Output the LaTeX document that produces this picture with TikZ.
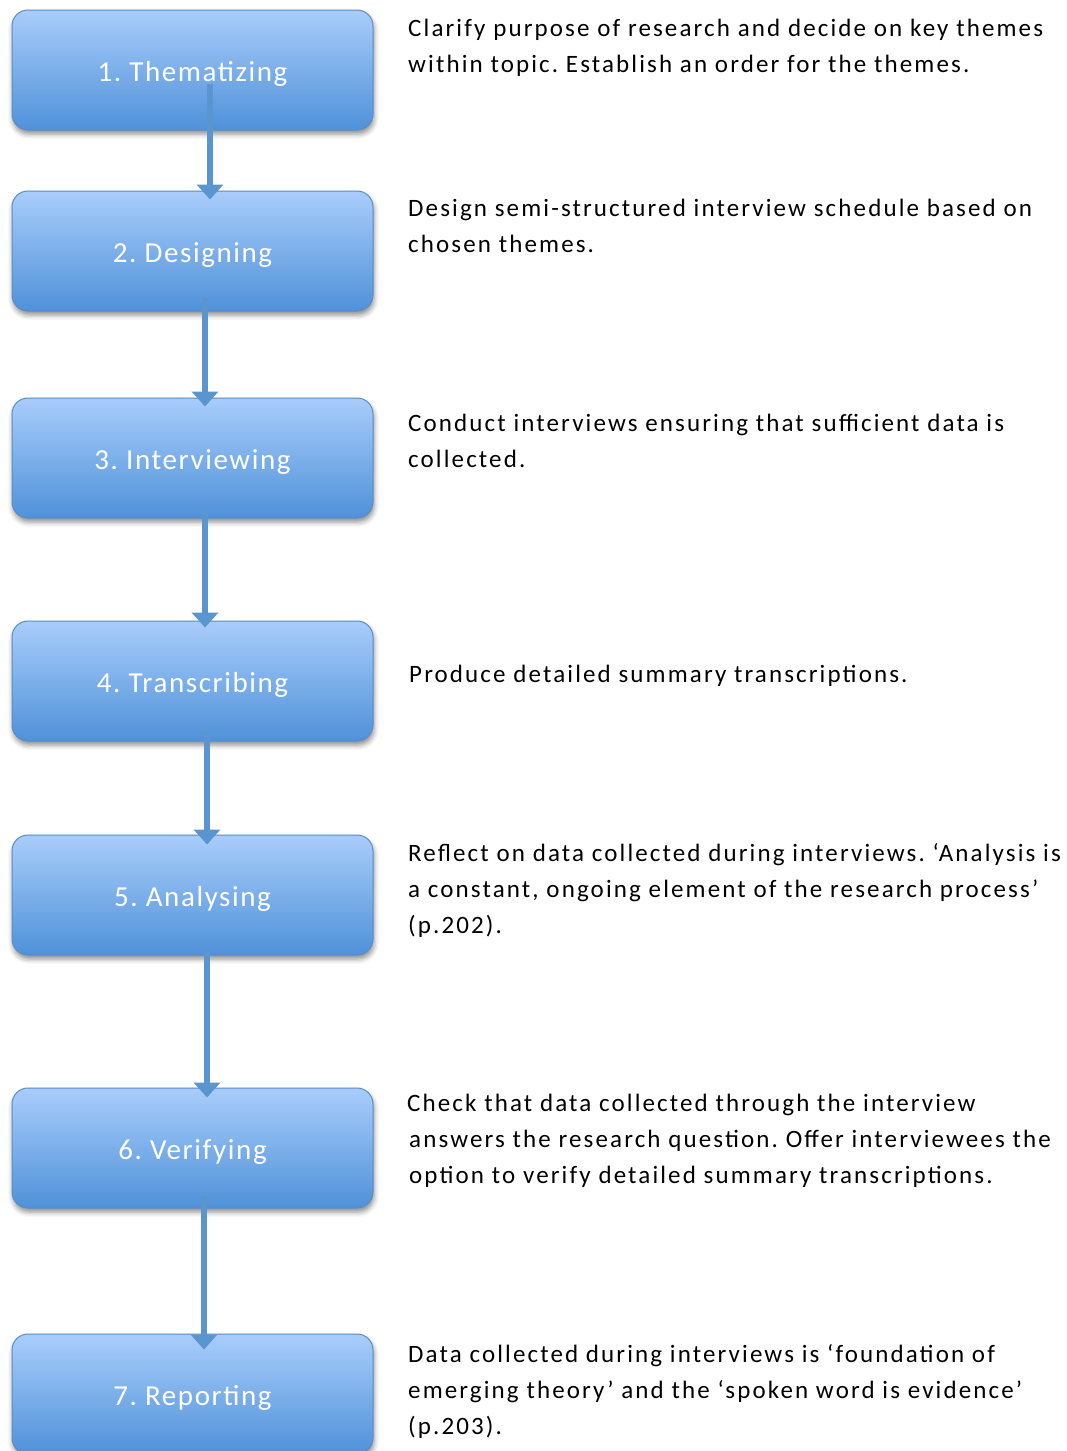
\documentclass[tikz,border=0pt]{standalone}
\usepackage{fontspec}
\setmainfont{Carlito}
\newfontfamily\descfont[LetterSpace=8.5]{Carlito}
\newfontfamily\labelfont[LetterSpace=5.5]{Carlito}
\usetikzlibrary{arrows.meta,shadows.blur,calc}
\definecolor{boxtop}{HTML}{A9CDFB}
\definecolor{boxbot}{HTML}{4F91D9}
\definecolor{boxline}{HTML}{5A8DC8}
\definecolor{arrowcol}{HTML}{5B95CF}
\begin{document}
\frenchspacing
\begin{tikzpicture}[x=1pt,y=-1pt,
  stepbox/.style={draw=boxline, line width=1pt, rounded corners=16pt,
    minimum width=361pt, minimum height=120pt, inner sep=0pt,
    text height=22pt, text depth=0pt,
    top color=boxtop, bottom color=boxbot, text=white,
    font=\labelfont\fontsize{29}{34}\selectfont,
    blur shadow={shadow xshift=1pt, shadow yshift=-4pt, shadow blur radius=5pt, shadow opacity=45}},
  desc/.style={anchor=north west, align=left, inner sep=0pt,
    font=\descfont\fontsize{25}{36}\selectfont, text=black},
  flow/.style={draw=arrowcol, line width=6pt, -{Triangle[width=26pt,length=15pt]}}
]
\useasboundingbox (0,0) rectangle (1066,1451);

\node[stepbox] (n1) at (192.5,70)   {1. Thematizing};
\node[stepbox] (n2) at (192.5,251)  {2. Designing};
\node[stepbox] (n3) at (192.5,458)  {3. Interviewing};
\node[stepbox] (n4) at (192.5,681)  {4. Transcribing};
\node[stepbox] (n5) at (192.5,895)  {5. Analysing};
\node[stepbox] (n6) at (192.5,1148) {6. Verifying};
\node[stepbox] (n7) at (192.5,1394) {7. Reporting};

\node[desc] (d1) at (408,16)   {\rule{0pt}{20pt}Clarify purpose of research and decide on key themes\\within topic. Establish an order for the themes.};
\node[desc] (d2) at (408,196)  {\rule{0pt}{20pt}Design semi-structured interview schedule based on\\chosen themes.};
\node[desc] (d3) at (408,411)  {\rule{0pt}{20pt}Conduct interviews ensuring that sufficient data is\\collected.};
\node[desc] (d4) at (409,662)  {\rule{0pt}{20pt}Produce detailed summary transcriptions.};
\node[desc] (d5) at (408,841)  {\rule{0pt}{20pt}Reflect on data collected during interviews. ‘Analysis is\\a constant, ongoing element of the research process’\\(p.202).};
\node[desc] (d6) at (407,1091) {\rule{0pt}{20pt}Check that data collected through the interview\\\hspace{2pt}answers the research question. Offer interviewees the\\\hspace{2pt}option to verify detailed summary transcriptions.};
\node[desc] (d7) at (408,1342) {\rule{0pt}{20pt}Data collected during interviews is ‘foundation of\\emerging theory’ and the ‘spoken word is evidence’\\(p.203).};

\draw[flow] ([xshift=17.5pt,yshift=47pt]n1.south) -- ([xshift=17.5pt,yshift=-9pt]n2.north);
\draw[flow] ([xshift=12.5pt,yshift=14pt]n2.south) -- ([xshift=12.5pt,yshift=-9pt]n3.north);
\draw[flow] ([xshift=12.5pt,yshift=9pt]n3.south) -- ([xshift=12.5pt,yshift=-7pt]n4.north);
\draw[flow] ([xshift=14.5pt,yshift=11pt]n4.south) -- ([xshift=14.5pt,yshift=-10pt]n5.north);
\draw[flow] ([xshift=14.5pt,yshift=6pt]n5.south) -- ([xshift=14.5pt,yshift=-10pt]n6.north);
\draw[flow] ([xshift=11.5pt,yshift=13pt]n6.south) -- ([xshift=11.5pt,yshift=-16pt]n7.north);
\end{tikzpicture}
\end{document}
